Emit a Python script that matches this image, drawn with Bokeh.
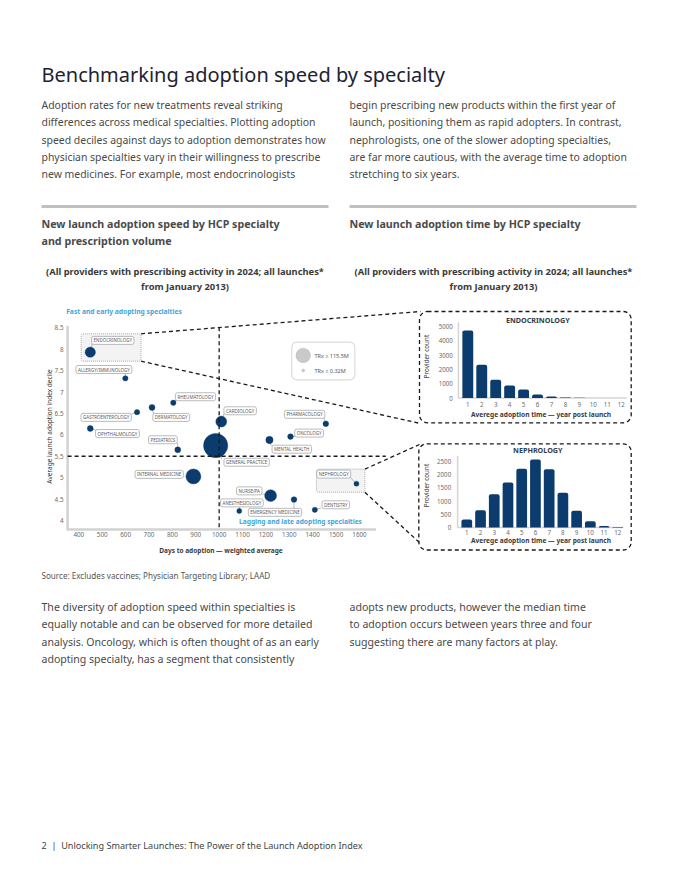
import math
from bokeh.plotting import figure
from bokeh.models import Range1d
from bokeh.core.properties import value
from bokeh.embed import file_html
from bokeh.resources import INLINE

# ---------------- data ----------------
specialties = ["ENDOCRINOLOGY", "ALLERGY/IMMUNOLOGY", "RHEUMATOLOGY", "DERMATOLOGY",
               "GASTROENTEROLOGY", "OPHTHALMOLOGY", "CARDIOLOGY", "GENERAL PRACTICE",
               "PEDIATRICS", "MENTAL HEALTH", "ONCOLOGY", "PHARMACOLOGY",
               "INTERNAL MEDICINE", "NEPHROLOGY", "NURSE/PA", "EMERGENCY MEDICINE",
               "ANESTHESIOLOGY", "DENTISTRY"]
days_to_adoption = [449, 599, 804, 713, 649, 449, 1009, 985, 823, 1215, 1305, 1456,
                    890, 1587, 1220, 1320, 1086, 1409]
adoption_decile = [7.93, 7.32, 6.75, 6.64, 6.53, 6.15, 6.31, 5.75, 5.65, 5.88, 5.96, 6.26,
                   5.03, 4.86, 4.58, 4.49, 4.22, 4.25]
trx_millions = [49, 7, 7, 10, 7, 10, 57, 370, 10, 19, 8.5, 8.5, 123, 5.5, 70, 8.5, 5.5, 6.5]

x_ticks = [400, 500, 600, 700, 800, 900, 1000, 1100, 1200, 1300, 1400, 1500, 1600]
y_ticks = [4, 4.5, 5, 5.5, 6, 6.5, 7, 7.5, 8, 8.5]
y_tick_labels = ["4", "4.5", "5", "5.5", "6", "6.5", "7", "7.5", "8", "8.5"]
days_threshold = 1000
decile_threshold = 5.5

legend_trx = [115.5, 0.32]
legend_labels = ["TRx \u2265 115.5M", "TRx \u2264 0.32M"]

years = [1, 2, 3, 4, 5, 6, 7, 8, 9, 10, 11, 12]
year_labels = [str(y) for y in years]
endo_counts = [4720, 2320, 1270, 880, 600, 240, 110, 40, 12, 6, 4, 2]
neph_counts = [300, 650, 1260, 1700, 2220, 2570, 2200, 1310, 630, 240, 60, 15]
endo_y_ticks = [0, 1000, 2000, 3000, 4000, 5000]
neph_y_ticks = [0, 500, 1000, 1500, 2000, 2500]

title_text = "Benchmarking adoption speed by specialty"
intro_left = ["Adoption rates for new treatments reveal striking",
              "differences across medical specialties. Plotting adoption",
              "speed deciles against days to adoption demonstrates how",
              "physician specialties vary in their willingness to prescribe",
              "new medicines. For example, most endocrinologists"]
intro_right = ["begin prescribing new products within the first year of",
               "launch, positioning them as rapid adopters. In contrast,",
               "nephrologists, one of the slower adopting specialties,",
               "are far more cautious, with the average time to adoption",
               "stretching to six years."]
outro_left = ["The diversity of adoption speed within specialties is",
              "equally notable and can be observed for more detailed",
              "analysis. Oncology, which is often thought of as an early",
              "adopting specialty, has a segment that consistently"]
outro_right = ["adopts new products, however the median time",
               "to adoption occurs between years three and four",
               "suggesting there are many factors at play."]
sub_left = ["New launch adoption speed by HCP specialty", "and prescription volume"]
sub_right = ["New launch adoption time by HCP specialty"]
note_lines = ["(All providers with prescribing activity in 2024; all launches*", "from January 2013)"]
source_text = "Source: Excludes vaccines; Physician Targeting Library; LAAD"
footer_text = "2 \u00a0|\u00a0 Unlocking Smarter Launches: The Power of the Launch Adoption Index"

# ---------------- layout / style ----------------
NAVY = "#0b3c6d"
BLUE = "#3ea6dc"
BODY = "#4a4a4a"
FONT = value("Noto Sans")
W, H = 664, 864
X0, Y0 = 1, 0  # where the canvas lands in the screenshot

p = figure(width=W, height=H, x_range=Range1d(X0, X0 + W), y_range=Range1d(Y0 + H, Y0),
           output_backend="svg", toolbar_location=None, min_border=0,
           x_axis_type=None, y_axis_type=None, outline_line_color=None)
p.background_fill_color = "white"
p.border_fill_color = "white"


def lin(pa, va, pb, vb):
    k = (vb - va) / (pb - pa)
    return lambda px: va + (px - pa) * k


def inv(pa, va, pb, vb):
    k = (pb - pa) / (vb - va)
    return lambda v: pa + (v - va) * k


def xr(pa, va, pb, vb):
    f = lin(pa, va, pb, vb)
    return Range1d(start=f(X0), end=f(X0 + W))


def yr(pa, va, pb, vb):
    f = lin(pa, va, pb, vb)
    return Range1d(start=f(Y0 + H), end=f(Y0))


# pixel anchors of each sub-chart
SX = (79.3, 400, 360.0, 1600)
SY = (327.3, 8.5, 520.0, 4)
EX = (468.3, 1, 621.7, 12)
EY = (397.5, 0, 326.0, 5000)
NX = (467.3, 1, 618.3, 12)
NY = (527.0, 0, 460.8, 2500)

p.extra_x_ranges = {"sx": xr(*SX), "ex": xr(*EX), "nx": xr(*NX)}
p.extra_y_ranges = {"sy": yr(*SY), "ey": yr(*EY), "ny": yr(*NY)}
sx_px = inv(*SX)
sy_px = inv(*SY)


def T(xs, ys, texts, size, color=BODY, style="normal", align="left", baseline="middle",
      angle=0.0, xn="default", yn="default", **kw):
    p.text(x=list(xs), y=list(ys), text=list(texts), text_font=FONT,
           text_font_size=value(f"{size}px"), text_color=color, text_font_style=style,
           text_align=align, text_baseline=baseline, angle=angle,
           x_range_name=xn, y_range_name=yn, **kw)


# ---------------- header ----------------
T([42], [73.8], [title_text], 20, color="#1d2233")
LH = 17.35
T([42] * len(intro_left), [104.3 + LH * i for i in range(len(intro_left))], intro_left, 10.45)
T([350] * len(intro_right), [104.3 + LH * i for i in range(len(intro_right))], intro_right, 10.45)

p.line(x=[42, 329], y=[206, 206], line_color="#bfc0c4", line_width=3)
p.line(x=[350, 637], y=[206, 206], line_color="#bfc0c4", line_width=3)
T([42, 42], [223.5, 240.5], sub_left, 10.7, color=BODY, style="bold")
T([350], [223.5], sub_right, 10.7, color=BODY, style="bold")
T([185.5, 185.5], [270.5, 285.5], note_lines, 9.35, color="#3a3a3a", style="bold", align="center")
T([494, 494], [270.5, 285.5], note_lines, 9.35, color="#3a3a3a", style="bold", align="center")

# ---------------- scatter chart ----------------
# highlight boxes
p.quad(left=[410, 1416], right=[666, 1623], top=[8.36, 5.2], bottom=[7.72, 4.66],
       x_range_name="sx", y_range_name="sy", fill_color="#eeeeee", fill_alpha=0.7,
       line_color="#9a9a9a", line_width=0.8, line_dash="1 1", border_radius=2)

# axis L-shape
p.line(x=[352, 352, 1671], y=[8.55, 3.79, 3.79], x_range_name="sx", y_range_name="sy",
       line_color="#d2d2d2", line_width=2.5, line_join="round")

# tick labels
T(x_ticks, [534] * len(x_ticks), [str(t) for t in x_ticks], 6.3, color="#6b6b6b",
  align="center", xn="sx")
T([64] * len(y_ticks), y_ticks, y_tick_labels, 6.3, color="#6b6b6b", align="right", yn="sy")
T([221.5], [550], ["Days to adoption \u2014 weighted average"], 6.5, color="#3a3a3a",
  style="bold", align="center")
T([49.5], [426], ["Average launch adoption index decile"], 6.5, color="#3a3a3a",
  align="center", angle=math.pi / 2)
T([66.7], [310.5], ["Fast and early adopting specialties"], 6.7, color=BLUE, style="bold")
T([301], [521], ["Lagging and late adopting specialties"], 6.6, color=BLUE, style="bold",
  align="center")

# label offsets (screen px from each dot to its label centre)
LABEL_OFFSETS = {
    "ENDOCRINOLOGY": (22.5, -11.8), "ALLERGY/IMMUNOLOGY": (-21.4, -8.8),
    "RHEUMATOLOGY": (22.2, -6.0), "DERMATOLOGY": (19.2, 10.0),
    "GASTROENTEROLOGY": (-30.9, 5.2), "OPHTHALMOLOGY": (27.2, 5.1),
    "CARDIOLOGY": (18.9, -10.8), "GENERAL PRACTICE": (31.0, 16.7),
    "PEDIATRICS": (-14.9, -10.1), "MENTAL HEALTH": (22.3, 9.2),
    "ONCOLOGY": (18.6, -3.5), "PHARMACOLOGY": (-21.2, -9.4),
    "INTERNAL MEDICINE": (-34.2, -2.0), "NEPHROLOGY": (-22.7, -9.6),
    "NURSE/PA": (-21.4, -4.8), "EMERGENCY MEDICINE": (-19.0, 12.8),
    "ANESTHESIOLOGY": (2.6, -8.2), "DENTISTRY": (21.0, -5.0),
}
CH_W = 2.85
lab_x, lab_y, c_x0, c_y0, c_x1, c_y1 = [], [], [], [], [], []
for name, d, v in zip(specialties, days_to_adoption, adoption_decile):
    dx, dy = LABEL_OFFSETS[name]
    px, py = sx_px(d), sy_px(v)
    cx, cy = px + dx, py + dy
    hw, hh = (len(name) * CH_W + 4) / 2, 3.2
    if cx - hw <= px <= cx + hw:
        x0, y0 = px, (cy + hh if py > cy else cy - hh)
    else:
        x0 = cx + hw if px > cx else cx - hw
        y0 = min(max(py, cy - hh), cy + hh)
    lab_x.append(cx); lab_y.append(cy)
    c_x0.append(x0); c_y0.append(y0); c_x1.append(px); c_y1.append(py)

p.segment(x0=c_x0, y0=c_y0, x1=c_x1, y1=c_y1, line_color="#8a8f96", line_width=0.6)

sizes = [2.355 + 1.139 * math.sqrt(t) for t in trx_millions]
p.scatter(x=days_to_adoption, y=adoption_decile, size=sizes, x_range_name="sx",
          y_range_name="sy", fill_color=NAVY, line_color=NAVY, line_width=0.4)

# reference lines
p.line(x=[days_threshold, days_threshold], y=[8.51, 3.79], x_range_name="sx",
       y_range_name="sy", line_color="#1a1a1a", line_width=1.3, line_dash="4 3")
p.line(x=[352, 1712], y=[decile_threshold, decile_threshold], x_range_name="sx",
       y_range_name="sy", line_color="#1a1a1a", line_width=1.3, line_dash="4 3")

# labels
p.text(x=lab_x, y=lab_y, text=specialties, text_font=FONT, text_font_size=value("4.5px"),
       text_color="#5a5a5a", text_align="center", text_baseline="middle",
       background_fill_color="white", border_line_color="#8a8f96", border_line_width=0.6,
       border_radius=2, padding=dict(left=2, right=2, top=1, bottom=1))

# legend
p.quad(left=[292.3], right=[355.3], top=[341.7], bottom=[379.3], fill_color="white",
       line_color="#dcdcdc", line_width=1.2, border_radius=5)
leg_sizes = [2.355 + 1.139 * math.sqrt(t) for t in legend_trx]
p.scatter(x=[303.7, 303.7], y=[355, 370], size=leg_sizes, fill_color="#c9c9c9",
          line_color="#b5b5b5", line_width=0.4)
T([315, 315], [355, 370], legend_labels, 5.5, color="#555555")

# connectors to histogram panels
DASH = dict(line_color="#1a1a1a", line_width=1.3, line_dash="4 3")
e_l, e_r, e_t, e_b = sx_px(410), sx_px(666), sy_px(8.36), sy_px(7.72)
n_l, n_r, n_t, n_b = sx_px(1416), sx_px(1623), sy_px(5.2), sy_px(4.66)
p.segment(x0=[e_r, e_r, n_r, n_r], y0=[e_t, e_b, n_t, n_b],
          x1=[421, 421, 420, 421], y1=[311, 423, 444, 543], **DASH)

# ---------------- histogram panels ----------------
p.quad(left=[420, 419.3], right=[631.7, 631.7], top=[311, 443.3], bottom=[422.3, 549.5],
       fill_color=None, border_radius=8, **DASH)


def histogram(xn, yn, counts, yticks, ymax, title, title_y, xlab_y, xtitle_y, ylab_x, yt_center):
    p.line(x=[0.33, 0.33, 12.4], y=[ymax, 0, 0], x_range_name=xn, y_range_name=yn,
           line_color="#d5d5d5", line_width=1.5)
    p.vbar(x=years, top=counts, bottom=0, width=0.78, x_range_name=xn, y_range_name=yn,
           fill_color=NAVY, line_color=None, border_radius=(2, 2, 0, 0))
    T(years, [xlab_y] * len(years), year_labels, 6.2, color="#6b6b6b", align="center", xn=xn)
    T([ylab_x] * len(yticks), yticks, [str(t) for t in yticks], 6.2, color="#6b6b6b",
      align="right", yn=yn)
    T([538.3], [title_y], [title], 7.2, color="#2f3d4d", style="bold", align="center")
    T([541.5], [xtitle_y], ["Averege adoption time \u2014 year post launch"], 6.6,
      color="#3a3a3a", style="bold", align="center")
    T([427], [yt_center], ["Provider count"], 6.3, color="#3a3a3a", align="center",
      angle=math.pi / 2)


histogram("ex", "ey", endo_counts, endo_y_ticks, 5300, "ENDOCRINOLOGY", 319.5, 404, 414,
          453.3, 356)
histogram("nx", "ny", neph_counts, neph_y_ticks, 2700, "NEPHROLOGY", 449, 531.7, 539.5,
          451.7, 485)

# ---------------- footer texts ----------------
T([42], [574.5], [source_text], 8.1, color="#555555")
T([42] * len(outro_left), [606.3 + LH * i for i in range(len(outro_left))], outro_left, 10.55)
T([350] * len(outro_right), [606.3 + LH * i for i in range(len(outro_right))], outro_right, 10.55)
T([42], [844.5], [footer_text], 9.1, color="#444444")

open("out.html", "w").write(file_html(p, INLINE))
